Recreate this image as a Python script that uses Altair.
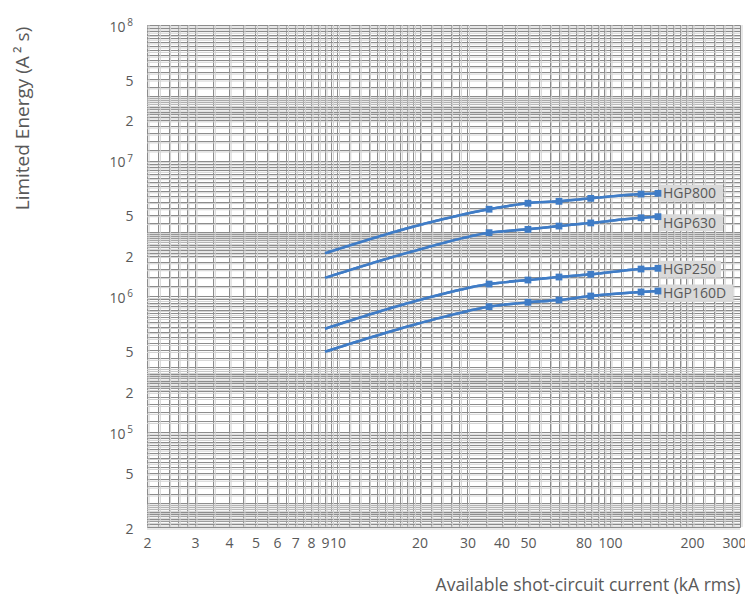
import altair as alt
import pandas as pd

# ---- data ----
series_names = ["HGP800", "HGP630", "HGP250", "HGP160D"]
current_ka = [9, 20, 36, 50, 65, 85, 130, 150]
marker_from_ka = 36
hgp800 = [2.08e6, 3.36e6, 4.39e6, 4.86e6, 5.02e6, 5.28e6, 5.68e6, 5.75e6]
hgp630 = [1.37e6, 2.22e6, 2.95e6, 3.12e6, 3.30e6, 3.48e6, 3.80e6, 3.87e6]
hgp250 = [5.78e5, 9.41e5, 1.234e6, 1.321e6, 1.39e6, 1.455e6, 1.592e6, 1.611e6]
hgp160d = [3.91e5, 6.34e5, 8.40e5, 9.05e5, 9.41e5, 1.007e6, 1.078e6, 1.096e6]
series_values = [hgp800, hgp630, hgp250, hgp160d]

# ---- log-paper grid (tick values) ----
x_mantissas = [1.0, 1.1, 1.2, 1.3, 1.4, 1.5, 1.6, 1.7, 1.8, 1.9,
               2.0, 2.2, 2.4, 2.6, 2.8,
               3.0, 3.5, 4.0, 4.5, 5.0, 5.5, 6.0, 6.5, 7.0, 7.5, 8.0, 8.5, 9.0, 9.5]
y_mantissas = [1.0, 1.2, 1.4, 1.6, 1.8,
               2.0, 2.1, 2.2, 2.3, 2.4, 2.5, 2.6, 2.7, 2.8, 2.9,
               3.0, 3.5, 4.0, 4.5, 5.0, 5.5, 6.0, 6.5, 7.0, 7.5, 8.0, 8.5, 9.0, 9.5]
x_decades = [1, 10, 100]
y_decades = [1e4, 1e5, 1e6, 1e7, 1e8]
x_domain = [2, 300]
y_domain = [2e4, 1e8]

x_grid = sorted({m * d for d in x_decades for m in x_mantissas if x_domain[0] <= m * d <= x_domain[1]})
y_grid = sorted({m * d for d in y_decades for m in y_mantissas if y_domain[0] <= m * d <= y_domain[1]})

x_tick_labels = [2, 3, 4, 5, 6, 7, 8, 9, 10, 20, 30, 40, 50, 80, 100, 200, 300]
y_label_values = [2e4, 5e4, 1e5, 2e5, 4e5, 1e6, 2e6, 4e6, 1e7, 2e7, 4e7, 1e8]
y_label_texts = ["2", "5", "10", "2", "5", "10", "2", "5", "10", "2", "5", "10"]
y_exponent_values = [1e5, 1e6, 1e7, 1e8]
y_exponent_texts = ["5", "6", "7", "8"]

# ---- tables ----
rows = []
for name, vals in zip(series_names, series_values):
    for k, v in zip(current_ka, vals):
        rows.append({"series": name, "ka": k, "energy": v})
df = pd.DataFrame(rows)
last = df[df["ka"] == current_ka[-1]].copy()
exp_df = pd.DataFrame({"energy": y_exponent_values, "exp": y_exponent_texts})
xg_df = pd.DataFrame({"ka": x_grid})
yg_df = pd.DataFrame({"energy": y_grid})

LABEL_COLOR = "#595959"
FONT = "Open Sans"
BLUE = "#3f7cc6"
GRID = "#8c8c8c"
SHADOW = "#d0d0d0"

x_label_expr = "indexof([" + ",".join(str(v) for v in x_tick_labels) + "], datum.value) >= 0 ? '' + datum.value : ''"
y_label_expr = "".join(f"datum.value == {v:.0f} ? '{t}' : " for v, t in zip(y_label_values, y_label_texts)) + "''"
decade_test = " || ".join(f"datum.value == {v:.0f}" for v in y_exponent_values)
x_last_test = f"datum.value == {x_domain[1]}"

x_scale = alt.Scale(type="log", domain=x_domain, nice=False)
y_scale = alt.Scale(type="log", domain=y_domain, nice=False)

x_enc = alt.X(
    "ka:Q", scale=x_scale,
    axis=alt.Axis(
        values=x_grid, labelExpr=x_label_expr, grid=True, gridColor=GRID, gridWidth=1,
        ticks=False, domain=False, labelOverlap=False, labelFlush=False,
        labelFont=FONT, labelFontSize=14, labelColor=LABEL_COLOR, labelPadding=9,
        labelAlign={"condition": {"test": x_last_test, "value": "right"}, "value": "center"},
        labelOffset={"condition": {"test": x_last_test, "value": 6}, "value": 0},
        title="Available shot-circuit current (kA rms)", titleFont=FONT, titleFontSize=17.5,
        titleFontWeight="normal", titleColor=LABEL_COLOR, titleAlign="right",
        titleX=593, titleY=63, titleBaseline="alphabetic",
    ),
)
y_enc = alt.Y(
    "energy:Q", scale=y_scale,
    axis=alt.Axis(
        values=y_grid, labelExpr=y_label_expr, grid=True, gridColor=GRID, gridWidth=1,
        ticks=False, domain=False, labelOverlap=False, labelFlush=False,
        labelFont=FONT, labelFontSize=14, labelColor=LABEL_COLOR,
        labelPadding={"condition": {"test": decade_test, "value": 22}, "value": 14},
        labelOffset=2,
        title="Limited Energy  (A\u2009² s)", titleFont=FONT, titleFontSize=19,
        titleFontWeight="normal", titleColor=LABEL_COLOR, titleAngle=-90,
        titleAlign="center", titleBaseline="middle", titleX=-125, titleY=93,
    ),
)

base = alt.Chart(df)

x_shadow = alt.Chart(xg_df).mark_rule(color=SHADOW, strokeWidth=1, xOffset=2).encode(
    x=alt.X("ka:Q", scale=x_scale)
)
y_shadow = alt.Chart(yg_df).mark_rule(color=SHADOW, strokeWidth=1, yOffset=2).encode(
    y=alt.Y("energy:Q", scale=y_scale)
)

lines = base.mark_line(interpolate="monotone", strokeWidth=2.5, color=BLUE).encode(
    x=x_enc, y=y_enc, detail="series:N"
)
markers = base.transform_filter(alt.datum.ka >= marker_from_ka).mark_square(
    size=46, color=BLUE, opacity=1
).encode(x="ka:Q", y="energy:Q")

label_layers = []
box_widths = {"HGP800": 64, "HGP630": 64, "HGP250": 62, "HGP160D": 74}
label_shift = {"HGP800": 0, "HGP630": 6, "HGP250": 1, "HGP160D": 2}
for name in series_names:
    sub = alt.Chart(last[last["series"] == name])
    w = box_widths[name]
    label_layers.append(
        sub.mark_rect(width=w, height=17, xOffset=w / 2 + 1, yOffset=label_shift[name], color="#d9d9d9").encode(
            x="ka:Q", y="energy:Q"
        )
    )
    label_layers.append(
        sub.mark_text(align="left", baseline="middle", dx=5, dy=label_shift[name] + 1, font=FONT,
                      fontSize=14, color=LABEL_COLOR).encode(x="ka:Q", y="energy:Q", text="series:N")
    )

exponents = alt.Chart(exp_df).mark_text(
    align="right", baseline="middle", fontSize=10, font=FONT, color=LABEL_COLOR, dy=-2
).encode(x=alt.value(-14), y=alt.Y("energy:Q", scale=y_scale), text="exp:N")

chart = alt.layer(
    lines, x_shadow, y_shadow, *label_layers[::2], lines, markers, *label_layers[1::2], exponents
).properties(
    width=593, height=502,
    autosize=alt.AutoSizeParams(type="none"),
    padding={"left": 139, "top": 17, "right": 5, "bottom": 68},
).configure_view(stroke=None).configure(background="white")

chart.save("out.html", embed_options={"renderer": "svg", "actions": False})
